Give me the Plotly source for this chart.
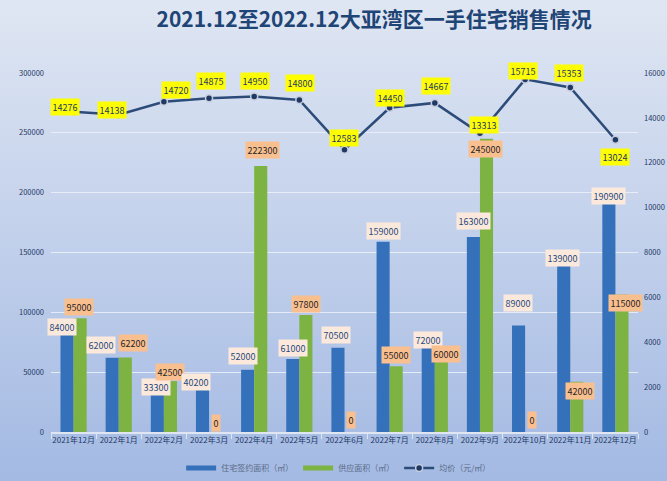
import plotly.graph_objects as go

# ---------------- data ----------------
months = ["2021年12月", "2022年1月", "2022年2月", "2022年3月", "2022年4月", "2022年5月",
          "2022年6月", "2022年7月", "2022年8月", "2022年9月", "2022年10月", "2022年11月", "2022年12月"]
signed_area = [84000, 62000, 33300, 40200, 52000, 61000, 70500, 159000, 72000, 163000, 89000, 139000, 190900]
supply_area = [95000, 62200, 42500, 0, 222300, 97800, 0, 55000, 60000, 245000, 0, 42000, 115000]
avg_price = [14276, 14138, 14720, 14875, 14950, 14800, 12583, 14450, 14667, 13313, 15715, 15353, 13024]

left_ticks = [0, 50000, 100000, 150000, 200000, 250000, 300000]
right_ticks = [0, 2000, 4000, 6000, 8000, 10000, 12000, 14000, 16000]

title_text = "2021.12至2022.12大亚湾区一手住宅销售情况"
names = ["住宅签约面积（㎡）", "供应面积（㎡）", "均价（元/㎡）"]

# ---------------- label offsets (style, pixels) ----------------
blue_off = [(-5, 4), (-11, 13), (-1.5, 5), (-6.5, 2), (-5, 14), (0, 11), (-2, 12.5),
            (0, 10.5), (0, 6), (0, 16), (-1, 23), (-1, 7.5), (0, 8)]
green_off = [(-1, 11.5), (8, 14.5), (0, 9.5), (0, 9.5), (1.5, 16), (0, 10.5), (0, 12),
             (0, 11), (5, 6), (-1, -10), (0, 12), (3, -9), (4, -8.5)]
price_off = [(-9, 5), (-7, 5), (12, 12), (2, 17), (1, 16), (1, 17), (-1, 12),
             (0, 10), (1, 17), (4, 8), (-2, 8), (-1, 15), (0, -17)]

W, H = 667, 481
ML, MR, MT, MB = 51, 29, 73, 49
PW, PH = W - ML - MR, H - MT - MB

FONT = "Noto Sans CJK SC, Noto Sans, sans-serif"
BLUE = "#3571ba"
GREEN = "#7cb342"
LINE = "#2d4b78"
TXT = "#1f3864"

fig = go.Figure()
fig.add_trace(go.Bar(x=months, y=signed_area, name=names[0], marker_color=BLUE,
                     marker_line_width=0, hoverinfo="skip", showlegend=False))
fig.add_trace(go.Bar(x=months, y=supply_area, name=names[1], marker_color=GREEN,
                     marker_line_width=0, hoverinfo="skip", showlegend=False))
fig.add_trace(go.Scatter(x=months, y=avg_price, name=names[2], yaxis="y2", mode="lines+markers",
                         line=dict(color=LINE, width=2.5),
                         marker=dict(size=7, color="#1f3864", line=dict(color="#c6cedd", width=1.5)),
                         hoverinfo="skip", showlegend=False))
# legend entries (flat wide swatches like the reference)
fig.add_trace(go.Scatter(x=[None], y=[None], mode="lines", name=names[0],
                         line=dict(color=BLUE, width=5), hoverinfo="skip"))
fig.add_trace(go.Scatter(x=[None], y=[None], mode="lines", name=names[1],
                         line=dict(color=GREEN, width=5), hoverinfo="skip"))
fig.add_trace(go.Scatter(x=[None], y=[None], mode="lines+markers", name=names[2], yaxis="y2",
                         line=dict(color=LINE, width=2.5),
                         marker=dict(size=7, color="#1f3864", line=dict(color="#c6cedd", width=1.5)),
                         hoverinfo="skip"))

# background gradient
top = (223, 230, 243)
bot = (164, 186, 227)
N = 60
x0p, x1p = -ML / PW, 1 + MR / PW
y0p, y1p = -MB / PH, 1 + MT / PH
shapes = []
for i in range(N):
    t = i / (N - 1)
    c = tuple(round(top[k] + (bot[k] - top[k]) * t) for k in range(3))
    ya = y1p - (y1p - y0p) * i / N
    yb = y1p - (y1p - y0p) * (i + 1) / N
    shapes.append(dict(type="rect", xref="paper", yref="paper", x0=x0p, x1=x1p,
                       y0=yb - 0.002, y1=ya + 0.002, line_width=0,
                       fillcolor="rgb(%d,%d,%d)" % c, layer="below"))

ann = []
half = 6.5
for i, m in enumerate(months):
    dx, dy = blue_off[i]
    ann.append(dict(x=m, y=signed_area[i], xref="x", yref="y", text=str(signed_area[i]),
                    showarrow=False, xshift=-half + dx, yshift=dy, bgcolor="#fde9dc",
                    font=dict(size=9, color="#1f497d", family=FONT), borderpad=1.5))
    dx, dy = green_off[i]
    ann.append(dict(x=m, y=supply_area[i], xref="x", yref="y", text=str(supply_area[i]),
                    showarrow=False, xshift=half + dx, yshift=dy, bgcolor="#fabf8f",
                    font=dict(size=9, color="#262626", family=FONT), borderpad=1.5))
    dx, dy = price_off[i]
    ann.append(dict(x=m, y=avg_price[i], xref="x", yref="y2", text=str(avg_price[i]),
                    showarrow=False, xshift=dx, yshift=dy, bgcolor="#ffff00",
                    font=dict(size=9, color=TXT, family=FONT), borderpad=1.5))

fig.update_layout(
    width=W, height=H,
    margin=dict(l=ML, r=MR, t=MT, b=MB, autoexpand=False),
    paper_bgcolor="rgb(190,205,234)",
    plot_bgcolor="rgba(0,0,0,0)",
    font=dict(family=FONT, color=TXT),
    title=dict(text="<b>" + title_text + "</b>", x=0.561, xanchor="center", y=1 - 20 / H,
               yanchor="middle", font=dict(size=21, color="#1f4476", family=FONT)),
    barmode="group", bargap=0.42, bargroupgap=0,
    xaxis=dict(type="category", range=[-0.5, len(months) - 0.5], tickangle=0,
               tickfont=dict(size=8, color=TXT), showgrid=False,
               showline=True, linecolor="#dfe6f2", linewidth=1.5,
               ticks="outside", tickson="boundaries", ticklen=5, tickcolor="#dfe6f2"),
    yaxis=dict(range=[0, 300000], tickvals=left_ticks, ticktext=[str(v) for v in left_ticks],
               tickfont=dict(size=7.5, color=TXT), showgrid=True, gridcolor="rgba(236,241,250,0.85)",
               gridwidth=1, zeroline=False, showline=False, ticks="", ticklabelstandoff=6),
    yaxis2=dict(range=[0, 16000], overlaying="y", side="right", tickvals=right_ticks,
                ticktext=[str(v) for v in right_ticks], tickfont=dict(size=7.5, color=TXT),
                showgrid=False, zeroline=False, showline=False, ticks="", ticklabelstandoff=5),
    legend=dict(orientation="h", x=0.49, xanchor="center", y=-36 / PH, yanchor="middle",
                font=dict(size=8, color="#5a6a88"), bgcolor="rgba(0,0,0,0)", itemwidth=30,
                traceorder="normal", tracegroupgap=0),
    shapes=shapes,
    annotations=ann,
    showlegend=True,
)

fig.write_html("out.html", config={"displayModeBar": False},
               post_script="document.body.style.margin='0px';")
